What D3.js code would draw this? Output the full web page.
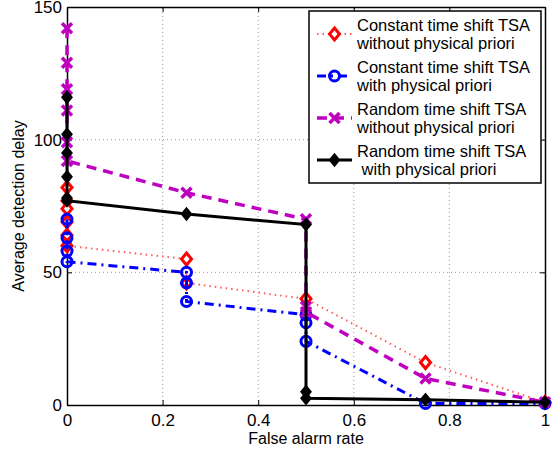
<!DOCTYPE html>
<html lang="en">
<head>
<meta charset="UTF-8">
<title>detection delay</title>
<script src="https://d3js.org/d3.v7.min.js"></script>
<style>
  body { margin: 0; background: #fff; }
  text { font-family: "Liberation Sans", Arial, sans-serif; }
</style>
</head>
<body>
<script>
// data: [false alarm rate, average detection delay]
var constNoPrior = [[0,82],[0,77],[0,74],[0,69],[0,64],[0,60],[0.25,55],[0.25,46],[0.5,40],[0.75,16],[1,1]];
var constPrior   = [[0,70],[0,63],[0,58],[0,54],[0.25,50],[0.25,46],[0.25,39],[0.5,34],[0.5,31],[0.5,24],[0.75,0.6],[1,0.6]];
var randNoPrior  = [[0,142],[0,129],[0,119],[0,111],[0,99],[0,92],[0.25,80],[0.5,70],[0.5,37],[0.5,35],[0.75,10],[1,1]];
var randPrior    = [[0,116],[0,102],[0,95],[0,86],[0,78],[0,77],[0.25,72],[0.5,68],[0.5,5],[0.5,2.5],[0.75,2],[1,1]];

var legendLabels = [
  ["Constant time shift TSA", "without physical priori"],
  ["Constant time shift TSA", "with physical priori"],
  ["Random time shift TSA", "without physical priori"],
  ["Random time shift TSA", " with physical priori"]
];
var xTicks = [0, 0.2, 0.4, 0.6, 0.8, 1];
var yTicks = [0, 50, 100, 150];

var W = 558, H = 451;
var m = {left: 67, right: 13, top: 7, bottom: 46};

var svg = d3.select("body").append("svg")
  .attr("width", W).attr("height", H);

var x = d3.scaleLinear().domain([0, 1]).range([m.left, W - m.right]);
var y = d3.scaleLinear().domain([0, 150]).range([H - m.bottom, m.top]);

// dotted grid
svg.append("g").selectAll("line.gx")
  .data(xTicks.slice(1, -1)).enter().append("line")
  .attr("x1", d => x(d)).attr("x2", d => x(d))
  .attr("y1", y(0)).attr("y2", y(150))
  .attr("stroke", "#999").attr("stroke-width", 1)
  .attr("stroke-dasharray", "1,3");
svg.append("g").selectAll("line.gy")
  .data(yTicks.slice(1, -1)).enter().append("line")
  .attr("x1", x(0)).attr("x2", x(1))
  .attr("y1", d => y(d)).attr("y2", d => y(d))
  .attr("stroke", "#999").attr("stroke-width", 1)
  .attr("stroke-dasharray", "1,3");

// axes (matlab style: ticks inside, box round)
svg.append("g").attr("transform", "translate(0," + y(0) + ")")
  .call(d3.axisBottom(x).tickValues(xTicks).tickFormat(d3.format("")).tickSizeInner(-5).tickSizeOuter(0).tickPadding(9));
svg.append("g").attr("transform", "translate(" + x(0) + ",0)")
  .call(d3.axisLeft(y).tickValues(yTicks).tickSizeInner(-5).tickSizeOuter(0).tickPadding(5));
svg.append("g").attr("transform", "translate(0," + y(150) + ")")
  .call(d3.axisTop(x).tickValues(xTicks).tickFormat("").tickSizeInner(-5).tickSizeOuter(0));
svg.append("g").attr("transform", "translate(" + x(1) + ",0)")
  .call(d3.axisRight(y).tickValues(yTicks).tickFormat("").tickSizeInner(-5).tickSizeOuter(0));
svg.selectAll(".domain").attr("stroke", "#000").attr("stroke-width", 1.5);
svg.selectAll(".tick line").attr("stroke", "#000");
svg.selectAll(".tick text").attr("font-size", 17).attr("fill", "#000")
  .style("font-family", "'Liberation Sans', Arial, sans-serif");

svg.append("text").attr("x", (x(0) + x(1)) / 2).attr("y", 444)
  .attr("text-anchor", "middle").attr("font-size", 16).text("False alarm rate");
svg.append("text").attr("transform", "translate(24," + ((y(0) + y(150)) / 2) + ") rotate(-90)")
  .attr("text-anchor", "middle").attr("font-size", 16).text("Average detection delay");

var line = d3.line().x(d => x(d[0])).y(d => y(d[1]));

var series = [
  {data: constNoPrior, color: "#ff0000", lineColor: "#ff5a5a", width: 2, dash: "1.5,4", marker: "diamondOpen"},
  {data: constPrior,   color: "#0000ff", lineColor: "#0000ff", width: 3, dash: "9,5,2,5", marker: "circle"},
  {data: randNoPrior,  color: "#bf00bf", lineColor: "#bf00bf", width: 3.5, dash: "10,7", marker: "x"},
  {data: randPrior,    color: "#000000", lineColor: "#000000", width: 3, dash: null, marker: "diamond"}
];

function drawMarker(g, kind, color, cx, cy) {
  if (kind === "diamond" || kind === "diamondOpen") {
    g.append("path")
      .attr("d", "M" + cx + "," + (cy - 6) + "L" + (cx + 5) + "," + cy + "L" + cx + "," + (cy + 6) + "L" + (cx - 5) + "," + cy + "Z")
      .attr("fill", kind === "diamond" ? color : "#fff")
      .attr("stroke", color).attr("stroke-width", kind === "diamond" ? 1.5 : 3);
  } else if (kind === "circle") {
    g.append("circle").attr("cx", cx).attr("cy", cy).attr("r", 5)
      .attr("fill", "none").attr("stroke", color).attr("stroke-width", 3);
  } else if (kind === "x") {
    g.append("path")
      .attr("d", "M" + (cx - 5) + "," + (cy - 5) + "L" + (cx + 5) + "," + (cy + 5) + "M" + (cx - 5) + "," + (cy + 5) + "L" + (cx + 5) + "," + (cy - 5))
      .attr("stroke", color).attr("stroke-width", 3.5).attr("fill", "none");
  }
}

series.forEach(function(s) {
  var g = svg.append("g");
  g.append("path").datum(s.data).attr("d", line)
    .attr("fill", "none").attr("stroke", s.lineColor).attr("stroke-width", s.width)
    .attr("stroke-dasharray", s.dash);
  s.data.forEach(function(d) { drawMarker(g, s.marker, s.color, x(d[0]), y(d[1])); });
});

// legend
var lg = svg.append("g");
lg.append("rect").attr("x", 309).attr("y", 11).attr("width", 232).attr("height", 172)
  .attr("fill", "#fff").attr("stroke", "#000").attr("stroke-width", 1.5);
series.forEach(function(s, i) {
  var cy = 34 + i * 42;
  lg.append("line").attr("x1", 317).attr("x2", 352).attr("y1", cy).attr("y2", cy)
    .attr("stroke", s.lineColor).attr("stroke-width", s.width).attr("stroke-dasharray", s.dash);
  drawMarker(lg, s.marker, s.color, 334.5, cy);
  lg.append("text").attr("x", 357).attr("y", cy - 3).attr("font-size", 16.5).text(legendLabels[i][0]);
  lg.append("text").attr("x", 357).attr("y", cy + 15).attr("font-size", 16.5)
    .style("white-space", "pre").text(legendLabels[i][1]);
});
</script>
</body>
</html>
